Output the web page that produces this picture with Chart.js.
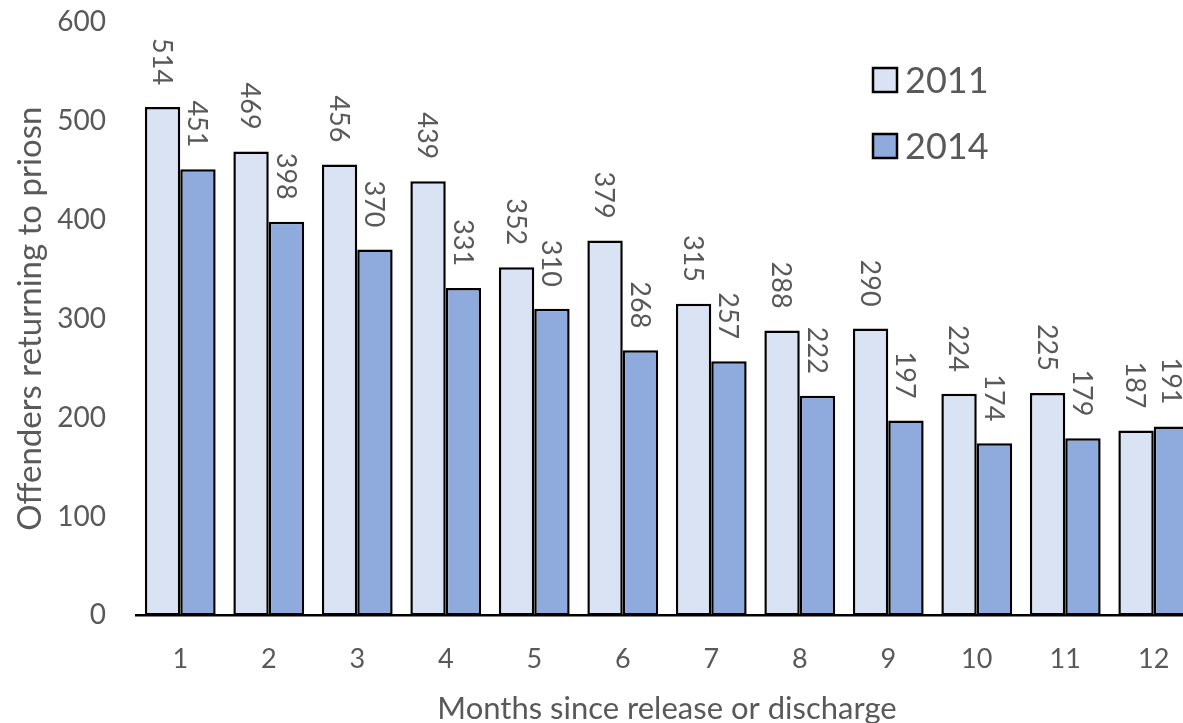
<!DOCTYPE html>
<html>
<head>
<meta charset="utf-8">
<script src="https://cdn.jsdelivr.net/npm/chart.js@4"></script>
<style>
  html, body { margin: 0; padding: 0; background: #ffffff; overflow: hidden; }
  #wrap { position: relative; width: 1198px; height: 723px; }
</style>
</head>
<body>
<div id="wrap"><canvas id="c"></canvas></div>
<script>
const categories = ['1', '2', '3', '4', '5', '6', '7', '8', '9', '10', '11', '12'];
const values2011 = [514, 469, 456, 439, 352, 379, 315, 288, 290, 224, 225, 187];
const values2014 = [451, 398, 370, 331, 310, 268, 257, 222, 197, 174, 179, 191];
const seriesNames = ['2011', '2014'];
const xTitle = 'Months since release or discharge';
const yTitle = 'Offenders returning to priosn';

const TEXT = '#595959';
const FONT = 'Lato, "Open Sans", sans-serif';
const colors = ['#DAE3F3', '#8FAADC'];

const labelPlugin = {
  id: 'rotLabels',
  afterDatasetsDraw(chart) {
    const ctx = chart.ctx;
    ctx.save();
    ctx.fillStyle = TEXT;
    ctx.font = '27px ' + FONT;
    chart.data.datasets.forEach((ds, di) => {
      const meta = chart.getDatasetMeta(di);
      meta.data.forEach((el, i) => {
        ctx.save();
        ctx.translate(el.x, el.y - 22);
        ctx.rotate(Math.PI / 2);
        ctx.textAlign = 'right';
        ctx.textBaseline = 'middle';
        ctx.fillText(String(ds.data[i]), 0, 1);
        ctx.restore();
      });
    });
    ctx.restore();
  }
};

const legendPlugin = {
  id: 'boxLegend',
  afterDraw(chart) {
    const ctx = chart.ctx;
    ctx.save();
    ctx.font = '36px ' + FONT;
    ctx.textAlign = 'left';
    ctx.textBaseline = 'middle';
    chart.data.datasets.forEach((ds, di) => {
      const cy = 80 + di * 66;
      ctx.fillStyle = ds.backgroundColor;
      ctx.fillRect(873, cy - 12, 24, 24);
      ctx.strokeStyle = '#000000';
      ctx.lineWidth = 2.5;
      ctx.strokeRect(873, cy - 12, 24, 24);
      ctx.fillStyle = TEXT;
      ctx.fillText(ds.label, 905, cy + 1);
    });
    ctx.restore();
  }
};

new Chart(document.getElementById('c'), {
  type: 'bar',
  data: {
    labels: categories,
    datasets: [
      { label: seriesNames[0], data: values2011, backgroundColor: colors[0], borderColor: '#000000', borderWidth: 2.5, borderSkipped: false },
      { label: seriesNames[1], data: values2014, backgroundColor: colors[1], borderColor: '#000000', borderWidth: 2.5, borderSkipped: false }
    ]
  },
  options: {
    responsive: true,
    maintainAspectRatio: false,
    animation: false,
    layout: { padding: { top: 22, right: 0, bottom: 0, left: 0 } },
    datasets: { bar: { categoryPercentage: 0.80, barPercentage: 1.0 } },
    plugins: {
      legend: { display: false },
      tooltip: { enabled: false }
    },
    scales: {
      x: {
        grid: { display: false, drawTicks: false },
        border: { display: true, color: '#000000', width: 2.5 },
        ticks: { color: TEXT, font: { family: FONT, size: 27 }, padding: 28 },
        title: { display: true, text: xTitle, color: TEXT, font: { family: FONT, size: 31 }, padding: { top: -13, bottom: -5 } }
      },
      y: {
        min: 0, max: 600,
        grid: { display: false, drawTicks: false },
        border: { display: false },
        ticks: { stepSize: 100, color: TEXT, font: { family: FONT, size: 28 }, padding: 30 },
        title: { display: true, text: yTitle, color: TEXT, font: { family: FONT, size: 33 }, padding: { top: 11, bottom: 0 } },
        afterFit(scale) { scale.width = 136; scale.paddingTop = 0; scale.paddingBottom = 0; }
      }
    }
  },
  plugins: [labelPlugin, legendPlugin]
});
</script>
</body>
</html>
